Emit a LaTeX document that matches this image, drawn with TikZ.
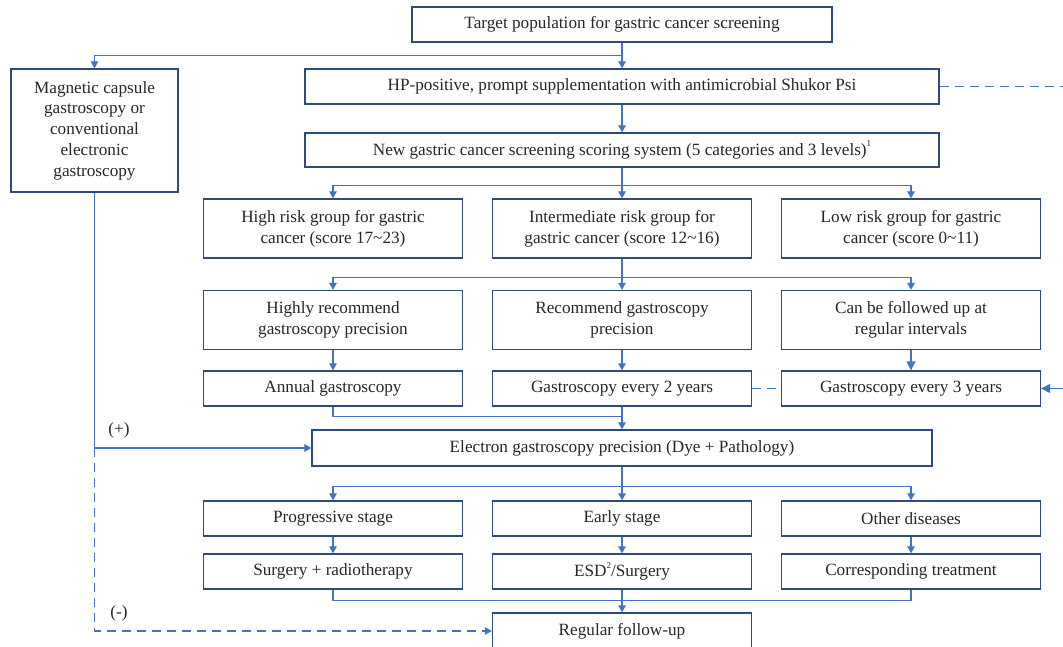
\documentclass[tikz,border=0pt]{standalone}
\usepackage{fontspec}
\setmainfont{Liberation Serif}
\usetikzlibrary{arrows.meta,calc}
\definecolor{boxc}{HTML}{2F4B7C}
\definecolor{linec}{HTML}{4472C4}
\definecolor{txtc}{HTML}{262626}
\newcommand{\supnote}[1]{\raisebox{0.5em}{\fontsize{9}{9}\selectfont #1}}

\begin{document}
\begin{tikzpicture}[x=1pt, y=-1pt,
        font=\fontsize{17.2}{20.7}\selectfont,
        box/.style={draw=boxc, line width=1.3pt, text=txtc, align=center, inner sep=0pt,
                    minimum width=259pt, minimum height=35pt},
        tall/.style={minimum height=59pt},
        plain/.style={draw=linec, line width=1.1pt},
        link/.style={plain, -{Triangle[length=7pt,width=7.5pt]}},
        biglink/.style={plain, line width=1.4pt, -{Triangle[length=9pt,width=9pt]}},
        dashline/.style={plain, dash pattern=on 9pt off 6pt},
        dashlink/.style={link, dash pattern=on 9pt off 6pt},
        lbl/.style={text=txtc}]
    \useasboundingbox (0,0) rectangle (1063,647);

    \node[box, minimum width=420pt] (target) at (622,24.5) {Target population for gastric cancer screening};
    \node[box, minimum width=634pt] (hp) at (622,86.5) {HP-positive, prompt supplementation with antimicrobial Shukor Psi};
    \node[box, minimum width=634pt, minimum height=34pt] (score) at (622,150) {New gastric cancer screening scoring system (5 categories and 3 levels)\supnote{1}};
    \node[box, minimum width=167pt, minimum height=123pt] (capsule) at (94.5,130.5) {Magnetic capsule\\gastroscopy or\\conventional\\electronic\\gastroscopy};

    \node[box, tall] (high) at (333,228.5) {High risk group for gastric\\cancer (score 17\textasciitilde23)};
    \node[box, tall] (inter) at (622,228.5) {Intermediate risk group for\\gastric cancer (score 12\textasciitilde16)};
    \node[box, tall] (low) at (911,228.5) {Low risk group for gastric\\cancer (score 0\textasciitilde11)};

    \node[box, tall] (rechigh) at (333,320) {Highly recommend\\gastroscopy precision};
    \node[box, tall] (recmid) at (622,320) {Recommend gastroscopy\\precision};
    \node[box, tall] (reclow) at (911,320) {Can be followed up at\\regular intervals};

    \node[box] (annual) at (333,388.5) {Annual gastroscopy};
    \node[box] (twoyear) at (622,388.5) {Gastroscopy every 2 years};
    \node[box] (threeyear) at (911,388.5) {Gastroscopy every 3 years};

    \node[box, minimum width=620pt, minimum height=36pt] (precision) at (622,448) {Electron gastroscopy precision (Dye + Pathology)};

    \node[box] (progressive) at (333,518.5) {Progressive stage};
    \node[box] (early) at (622,518.5) {Early stage};
    \node[box] (other) at (911,518.5) {Other diseases};

    \node[box] (surgery) at (333,571.5) {Surgery + radiotherapy};
    \node[box] (esd) at (622,571.5) {ESD\supnote{2}/Surgery};
    \node[box] (treatment) at (911,571.5) {Corresponding treatment};

    \node[box, minimum height=36pt] (followup) at (622,631) {Regular follow-up};

    \node[lbl] (pluslbl) at (119,430) {(+)};
    \node[lbl] (minuslbl) at (119,613) {(-)};

    \coordinate (riskfork) at ($(score.south)+(0,18)$);
    \coordinate (recfork) at ($(inter.south)+(0,19)$);
    \coordinate (precfork) at ($(twoyear.south)+(0,10)$);
    \coordinate (stagefork) at ($(precision.south)+(0,20)$);
    \coordinate (endfork) at ($(esd.south)+(0,11)$);
    \coordinate (plus) at (capsule.south |- precision.west);
    \coordinate (rightout) at (1063,86.5);
    \coordinate (rightin) at (1063,388.5);

    \draw[link] (target.south) -- (hp.north);
    \draw[link] ($(target.south)!0.5!(hp.north)$) -| (capsule.north);
    \draw[link] (hp.south) -- (score.north);
    \draw[dashline] (hp.east) -- (rightout);

    \draw[link] (score.south) -- (inter.north);
    \draw[link] (riskfork) -| (high.north);
    \draw[link] (riskfork) -| (low.north);

    \draw[link] (inter.south) -- (recmid.north);
    \draw[link] (recfork) -| (rechigh.north);
    \draw[link] (recfork) -| (reclow.north);

    \draw[link] (rechigh) -- (annual);
    \draw[link] (recmid) -- (twoyear);
    \draw[biglink] (reclow) -- (threeyear);
    \draw[dashline] (twoyear) -- (threeyear);
    \draw[biglink] (rightin) -- (threeyear.east);

    \draw[link] (twoyear) -- (precision);
    \draw[plain] (annual.south) |- (precfork);

    \draw[link] (capsule.south) -- (plus) -- (precision.west);
    \draw[dashlink] (plus) |- (followup.west);

    \draw[link] (precision) -- (early);
    \draw[link] (stagefork) -| (progressive.north);
    \draw[link] (stagefork) -| (other.north);

    \draw[link] (progressive) -- (surgery);
    \draw[link] (early) -- (esd);
    \draw[link] (other) -- (treatment);

    \draw[link] (esd) -- (followup);
    \draw[plain] (surgery.south) |- (endfork) -| (treatment.south);
\end{tikzpicture}
\end{document}
